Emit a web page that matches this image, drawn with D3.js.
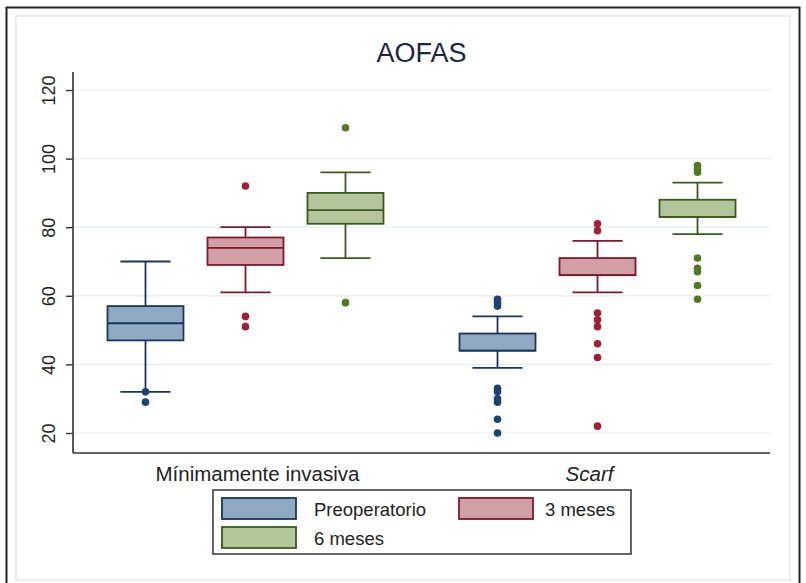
<!DOCTYPE html>
<html>
<head>
<meta charset="utf-8">
<script src="https://cdn.jsdelivr.net/npm/d3@7"></script>
<style>
  body { margin: 0; background: #fff; }
  text { font-family: "Liberation Sans", Arial, sans-serif; }
</style>
</head>
<body>
<div id="chart"></div>
<script>
// Categories and series
var groups = ["Mínimamente invasiva", "Scarf"];
var series = ["Preoperatorio", "3 meses", "6 meses"];
var yTicks = [20, 40, 60, 80, 100, 120];

// Box stats per group: [lower whisker, q1, median, q3, upper whisker]
var statsMinima = [
  [32, 47, 52, 57, 70],
  [61, 69, 74, 77, 80],
  [71, 81, 85, 90, 96]
];
var statsScarf = [
  [39, 44, 44, 49, 54],
  [61, 66, 66, 71, 76],
  [78, 83, 83, 88, 93]
];

// Outside values
var outMinima = [
  [32, 29],
  [92, 54, 51],
  [109, 58]
];
var outScarf = [
  [59, 58, 57, 33, 32, 30, 29, 24, 20],
  [81, 79, 55, 53, 51, 46, 42, 22],
  [98, 97, 96, 71, 68, 67, 63, 59]
];

var fills = ["#90a9c3", "#d1a0a7", "#b3c69b"];
var strokes = ["#1a3560", "#7e1a28", "#3a5a1c"];
var dotColors = ["#1d4373", "#a21f35", "#4f7a22"];

var W = 806, H = 583;
var plot = {left: 73, right: 770, top: 72, bottom: 453};

var svg = d3.select("#chart").append("svg")
  .attr("width", W).attr("height", H);

// frames
svg.append("rect").attr("x", 0).attr("y", 0).attr("width", W).attr("height", H).attr("fill", "#fff");
svg.append("rect")
  .attr("x", 16).attr("y", 16).attr("width", 774).attr("height", 564)
  .attr("fill", "none").attr("stroke", "#ededed").attr("stroke-width", 2);
svg.append("rect")
  .attr("x", 6.5).attr("y", 7.5).attr("width", 793).attr("height", 590)
  .attr("fill", "none").attr("stroke", "#222").attr("stroke-width", 2);

// scales
var y = d3.scaleLinear().domain([20, 120]).range([433, 90]);

var xGroup = d3.scalePoint()
  .domain(groups)
  .range([plot.left, plot.right])
  .padding(0.49);

var xSub = d3.scaleBand()
  .domain(series)
  .range([-150, 150])
  .paddingInner(0.24)
  .paddingOuter(0.12);

var bw = xSub.bandwidth();
var capW = bw * 0.66;

// gridlines
svg.append("g").selectAll("line")
  .data(yTicks)
  .join("line")
    .attr("x1", plot.left).attr("x2", plot.right + 1)
    .attr("y1", d => y(d)).attr("y2", d => y(d))
    .attr("stroke", "#e9ecef").attr("stroke-width", 1.2);

// title
svg.append("text")
  .attr("x", (plot.left + plot.right) / 2)
  .attr("y", 62)
  .attr("text-anchor", "middle")
  .style("font-size", "27px")
  .attr("fill", "#1c2444")
  .text("AOFAS");

// Y axis
var yAxis = svg.append("g")
  .attr("transform", `translate(${plot.left},0)`)
  .call(d3.axisLeft(y).tickValues(yTicks).tickSize(7).tickSizeOuter(0));
yAxis.select(".domain").remove();
yAxis.selectAll(".tick line").attr("stroke", "#333").attr("stroke-width", 1.4);
yAxis.selectAll(".tick text")
  .attr("x", null).attr("dy", null)
  .attr("transform", "translate(-18,0) rotate(-90)")
  .attr("text-anchor", "middle")
  .style("font-size", "18px")
  .attr("fill", "#222");
yAxis.append("line")
  .attr("x1", 0).attr("x2", 0)
  .attr("y1", plot.top).attr("y2", plot.bottom)
  .attr("stroke", "#333").attr("stroke-width", 1.6);

// X axis line
svg.append("line")
  .attr("x1", plot.left).attr("x2", plot.right)
  .attr("y1", plot.bottom).attr("y2", plot.bottom)
  .attr("stroke", "#333").attr("stroke-width", 1.6);

// group labels
svg.selectAll(".glabel")
  .data(groups)
  .join("text")
    .attr("class", "glabel")
    .attr("x", (d, i) => xGroup(d) + (i === 0 ? 12 : -8))
    .attr("y", 481)
    .attr("text-anchor", "middle")
    .style("font-size", "20.5px")
    .style("font-style", (d, i) => i === 1 ? "italic" : "normal")
    .attr("fill", "#222")
    .text(d => d);

// boxes
var allStats = [statsMinima, statsScarf];
var allOut = [outMinima, outScarf];

groups.forEach(function(g, gi) {
  series.forEach(function(s, si) {
    var st = allStats[gi][si];
    var cx = xGroup(g) + xSub(s) + bw / 2;
    var box = svg.append("g");

    // whiskers
    box.append("line")
      .attr("x1", cx).attr("x2", cx)
      .attr("y1", y(st[0])).attr("y2", y(st[1]))
      .attr("stroke", strokes[si]).attr("stroke-width", 1.8);
    box.append("line")
      .attr("x1", cx).attr("x2", cx)
      .attr("y1", y(st[3])).attr("y2", y(st[4]))
      .attr("stroke", strokes[si]).attr("stroke-width", 1.8);
    box.selectAll(".cap")
      .data([st[0], st[4]])
      .join("line")
        .attr("x1", cx - capW / 2).attr("x2", cx + capW / 2)
        .attr("y1", d => y(d)).attr("y2", d => y(d))
        .attr("stroke", strokes[si]).attr("stroke-width", 1.8);

    // box
    box.append("rect")
      .attr("x", cx - bw / 2).attr("width", bw)
      .attr("y", y(st[3])).attr("height", y(st[1]) - y(st[3]))
      .attr("fill", fills[si])
      .attr("stroke", strokes[si]).attr("stroke-width", 1.8);
    box.append("line")
      .attr("x1", cx - bw / 2).attr("x2", cx + bw / 2)
      .attr("y1", y(st[2])).attr("y2", y(st[2]))
      .attr("stroke", strokes[si]).attr("stroke-width", 1.8);

    // outside values
    box.selectAll("circle")
      .data(allOut[gi][si])
      .join("circle")
        .attr("cx", cx)
        .attr("cy", d => y(d))
        .attr("r", 3.8)
        .attr("fill", dotColors[si]);
  });
});

// legend
var legend = svg.append("g").attr("transform", "translate(213,490)");
legend.append("rect")
  .attr("width", 418).attr("height", 64)
  .attr("fill", "#fff").attr("stroke", "#333").attr("stroke-width", 1.5);

var legendPos = [[9, 8], [246, 8], [9, 37]];
var item = legend.selectAll(".item")
  .data(series)
  .join("g")
    .attr("class", "item")
    .attr("transform", (d, i) => `translate(${legendPos[i][0]},${legendPos[i][1]})`);
item.append("rect")
  .attr("width", 74).attr("height", 21)
  .attr("fill", (d, i) => fills[i])
  .attr("stroke", (d, i) => strokes[i]).attr("stroke-width", 1.8);
item.append("text")
  .attr("x", (d, i) => i === 1 ? 86 : 92)
  .attr("y", 18)
  .style("font-size", "18.5px")
  .attr("fill", "#222")
  .text(d => d);
</script>
</body>
</html>
